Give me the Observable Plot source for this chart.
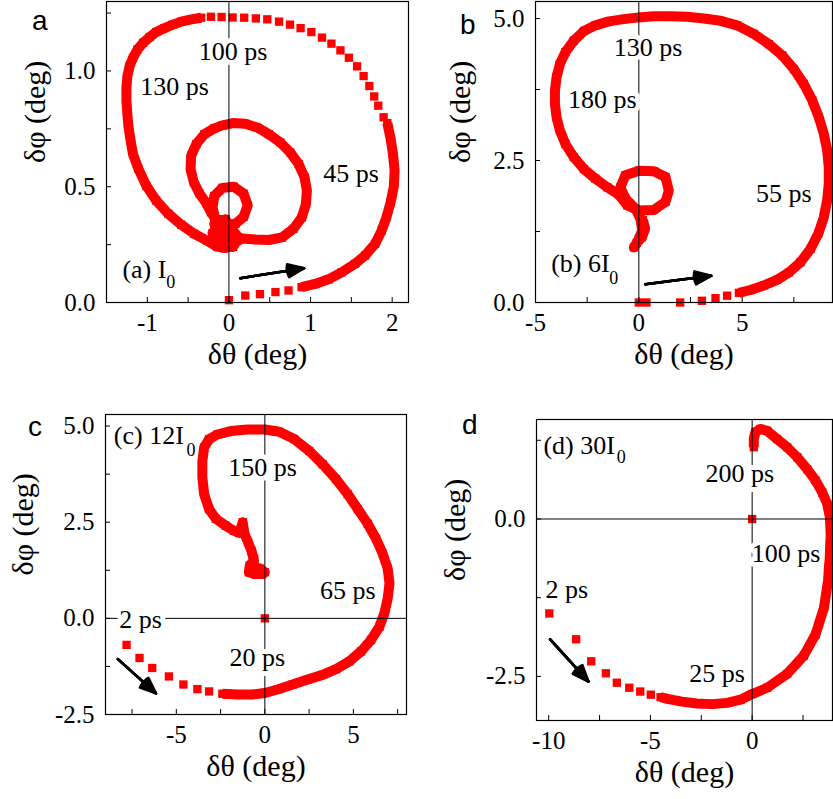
<!DOCTYPE html>
<html><head><meta charset="utf-8">
<script src="https://cdn.jsdelivr.net/npm/d3@7"></script>
<script src="https://cdn.jsdelivr.net/npm/@observablehq/plot@0.6"></script>
<style>
body{margin:0;background:#fff;}
#fig{position:relative;width:833px;height:799px;overflow:hidden;background:#fff;}
.panel{position:absolute;}
#fig svg, #fig svg text{font-family:"Liberation Serif","Times New Roman",Times,serif !important;}
.letter{position:absolute;font-family:"Liberation Sans",Arial,sans-serif;font-size:28px;line-height:28px;color:#000;}
</style></head><body><div id="fig"></div>
<script>
// ---------- Panel a : I0 ----------
const aSparseTheta = [0, 0.20, 0.38, 0.57, 0.73, 1.895, 1.83, 1.78, 1.72, 1.65, 1.57, 1.47, 1.366, 1.256, 1.14, 1.01, 0.878, 0.748, 0.614, 0.47, 0.33, 0.187, 0.045, -0.09, -0.22];
const aSparsePhi   = [0.01, 0.03, 0.036, 0.045, 0.052, 0.80, 0.85, 0.89, 0.935, 0.978, 1.02, 1.057, 1.089, 1.118, 1.144, 1.168, 1.185, 1.20, 1.213, 1.223, 1.227, 1.23, 1.231, 1.233, 1.234];
const aBandTheta = [0.89, 1.057, 1.22, 1.38, 1.545, 1.667, 1.79, 1.87, 1.93, 1.98, 2.02, 2.03, 2.01, 1.98, 1.94, null,
  -0.34, -0.46, -0.585, -0.687, -0.789, -0.89, -0.97, -1.05, -1.12, -1.175, -1.216, -1.244, -1.256, -1.256, -1.244, -1.232, -1.205, -1.175, -1.11, -1.012, -0.89, -0.744, -0.585, -0.427, -0.268, -0.146, -0.05, 0.05, 0.163, 0.325, 0.488, 0.65, 0.79, 0.894, 0.943, 0.955, 0.927, 0.854, 0.752, 0.63, 0.488, 0.345, 0.2, 0.05, -0.08, -0.18, -0.30, -0.40, -0.463, -0.47, -0.43, -0.36, -0.28, -0.22, -0.15, -0.05, 0.08, 0.18, 0.23, 0.18, 0.06, -0.08, -0.18, -0.2, -0.16, -0.12, -0.08, -0.04, 0.0, -0.02, -0.04,
  -0.2, -0.1, 0.05, 0.12, 0.05, -0.1, -0.18, -0.1];
const aBandPhi = [0.066, 0.08, 0.10, 0.13, 0.167, 0.203, 0.253, 0.31, 0.368, 0.432, 0.5, 0.57, 0.64, 0.71, 0.775, null,
  1.23, 1.223, 1.213, 1.20, 1.185, 1.168, 1.147, 1.122, 1.093, 1.057, 1.022, 0.978, 0.928, 0.871, 0.813, 0.763, 0.70, 0.64, 0.578, 0.504, 0.44, 0.384, 0.336, 0.297, 0.267, 0.241, 0.235, 0.255, 0.276, 0.272, 0.27, 0.281, 0.318, 0.368, 0.425, 0.483, 0.54, 0.598, 0.648, 0.691, 0.727, 0.756, 0.772, 0.775, 0.765, 0.752, 0.727, 0.684, 0.634, 0.576, 0.519, 0.47, 0.43, 0.39, 0.35, 0.335, 0.34, 0.37, 0.42, 0.47, 0.50, 0.495, 0.46, 0.41, 0.35, 0.30, 0.26, 0.25, 0.28, 0.32, 0.36,
  0.30, 0.24, 0.24, 0.28, 0.31, 0.30, 0.34, 0.36];
const aLabelText = ["100 ps", "130 ps", "45 ps"];
const aLabelX = [0.05, -0.667, 1.496];
const aLabelY = [1.083, 0.931, 0.555];
const aLegend = ["(a) I", "0"];
const aLegendX = [-1.305, -0.768];
const aLegendY = [0.141, 0.086];
const aArrow = [0.14, 0.105, 0.92, 0.148];
const aXDomain = [-1.5, 2.2], aYDomain = [0, 1.3];
const aXMinor = [-1, -0.5, 0, 0.5, 1, 1.5, 2], aYMinor = [0.25, 0.5, 0.75, 1.0, 1.25];
const aXTicks = [-1, 0, 1, 2], aXTickLabels = ["-1", "0", "1", "2"];
const aYTicks = [0, 0.5, 1.0], aYTickLabels = ["0.0", "0.5", "1.0"];

// ---------- Panel b : 6 I0 ----------
const bSparseTheta = [0, 0.37, 2.0, 3.05, 3.71, 4.27];
const bSparsePhi   = [0, 0, 0.0, 0.03, 0.076, 0.12];
const bBandTheta = [4.84, 5.4, 6.05, 6.69, 7.26, 7.82, 8.31, 8.68, 8.95, 9.11, 9.19, 9.19, 9.11, 8.95, 8.71, 8.39, 7.98, 7.5, 6.94, 6.29, 5.56, 4.76, 3.95, 3.15, 2.34, 1.53, 0.73, 0.0, -0.73, -1.45, -2.1, -2.66, -3.15, -3.55, -3.82, -3.98, -4.06, -4.06, -3.98, -3.82, -3.55, -3.15, -2.66, -2.1, -1.53, -0.97, -0.56, 0, 0.73, 1.29, 1.45, 1.29, 0.73, 0, -0.65, -0.89, -0.65, -0.16, 0.08, 0.16, 0, -0.24,
  -0.1, 0.15, 0.3, 0.2];
const bBandPhi = [0.17, 0.22, 0.30, 0.40, 0.53, 0.71, 0.945, 1.21, 1.50, 1.80, 2.09, 2.38, 2.68, 2.97, 3.26, 3.56, 3.85, 4.11, 4.35, 4.55, 4.73, 4.88, 4.96, 5.0, 5.03, 5.04, 5.04, 5.02, 4.99, 4.95, 4.88, 4.78, 4.61, 4.41, 4.2, 3.97, 3.73, 3.5, 3.26, 3.03, 2.79, 2.56, 2.35, 2.18, 2.03, 1.9, 1.71, 1.62, 1.63, 1.77, 1.97, 2.21, 2.31, 2.32, 2.24, 2.03, 1.83, 1.65, 1.47, 1.27, 1.12, 0.97,
  1.05, 1.15, 1.3, 1.45];
const bLabelText = ["130 ps", "180 ps", "55 ps"];
const bLabelX = [0.45, -1.77, 7.02];
const bLabelY = [4.48, 3.57, 1.92];
const bLegend = ["(b) 6I", "0"];
const bLegendX = [-4.24, -1.43];
const bLegendY = [0.68, 0.435];
const bArrow = [0.32, 0.32, 3.5, 0.47];
const bXDomain = [-5, 9.37], bYDomain = [0, 5.3];
const bXMinor = [-2.5, 0, 2.5, 5, 7.5], bYMinor = [1.25, 2.5, 3.75, 5];
const bXTicks = [-5, 0, 5], bXTickLabels = ["-5", "0", "5"];
const bYTicks = [0, 2.5, 5], bYTickLabels = ["0.0", "2.5", "5.0"];

// ---------- Panel c : 12 I0 ----------
const cSparseTheta = [0, -7.81, -7.08, -6.36, -5.42, -4.6, -3.81, -3.15];
const cSparsePhi   = [0, -0.69, -1.03, -1.29, -1.51, -1.72, -1.84, -1.90];
const cBandTheta = [-2.4, -1.55, -0.7, 0, 0.72, 1.57, 2.42, 3.26, 4.02, 4.77, 5.43, 6.0, 6.47, 6.75, 6.94, 7.04, 6.94, 6.66, 6.28, 5.81, 5.25, 4.68, 4.02, 3.26, 2.51, 1.66, 0.81, 0, -0.98, -1.92, -2.68, -3.15, -3.43, -3.53, -3.53, -3.43, -3.15, -2.77, -2.21, -1.75, -1.45, -1.25, -1.15, -0.95, -0.75, -0.62, -0.85, -0.9, -0.55, -0.15, 0,
  -0.3, -0.7, -0.6];
const cBandPhi = [-1.96, -1.98, -1.98, -1.94, -1.85, -1.72, -1.59, -1.47, -1.32, -1.12, -0.86, -0.56, -0.22, 0.13, 0.52, 0.91, 1.29, 1.68, 2.07, 2.46, 2.84, 3.23, 3.62, 4.01, 4.35, 4.66, 4.85, 4.91, 4.91, 4.87, 4.78, 4.66, 4.44, 4.09, 3.66, 3.23, 2.84, 2.59, 2.41, 2.28, 2.22, 2.5, 2.2, 1.98, 1.75, 1.5, 1.38, 1.2, 1.15, 1.15, 1.2,
  1.3, 1.3, 1.55];
const cLabelText = ["150 ps", "65 ps", "2 ps", "20 ps"];
const cLabelX = [-0.13, 4.68, -7.02, -0.42];
const cLabelY = [3.92, 0.73, -0.03, -1.03];
const cLegend = ["(c) 12I", "0"];
const cLegendX = [-8.53, -4.42];
const cLegendY = [4.74, 4.37];
const cArrow = [-8.3, -1.06, -6.15, -1.95];
const cXDomain = [-9, 8], cYDomain = [-2.5, 5.3];
const cXMinor = [-7.5, -5, -2.5, 0, 2.5, 5, 7.5], cYMinor = [-1.25, 0, 1.25, 2.5, 3.75, 5];
const cXTicks = [-5, 0, 5], cXTickLabels = ["-5", "0", "5"];
const cYTicks = [-2.5, 0, 2.5, 5], cYTickLabels = ["-2.5", "0.0", "2.5", "5.0"];

// ---------- Panel d : 30 I0 ----------
const dSparseTheta = [0, -9.97, -8.65, -7.91, -7.19, -6.65, -6.04, -5.5, -4.98];
const dSparsePhi   = [0, -1.5, -1.91, -2.26, -2.45, -2.6, -2.68, -2.74, -2.79];
const dBandTheta = [-4.5, -4.1, -3.45, -2.71, -1.97, -1.23, -0.57, 0, 0.74, 1.72, 2.54, 3.12, 3.53, 3.73, 3.82, 3.86, 3.82, 3.69, 3.45, 3.12, 2.71, 2.22, 1.72, 1.23, 0.74, 0.41, 0.16, 0.08, 0.08];
const dBandPhi = [-2.83, -2.86, -2.9, -2.93, -2.94, -2.92, -2.87, -2.78, -2.68, -2.46, -2.17, -1.83, -1.41, -0.98, -0.56, -0.24, 0.03, 0.24, 0.42, 0.61, 0.79, 0.98, 1.14, 1.27, 1.40, 1.43, 1.38, 1.27, 1.14];
const dLabelText = ["200 ps", "100 ps", "2 ps", "25 ps"];
const dLabelX = [-0.61, 1.67, -9.11, -1.72];
const dLabelY = [0.72, -0.55, -1.13, -2.46];
const dLegend = ["(d) 30I", "0"];
const dLegendX = [-10.26, -6.65];
const dLegendY = [1.17, 0.98];
const dArrow = [-9.93, -1.91, -8.05, -2.58];
const dXDomain = [-10.6, 3.95], dYDomain = [-3.2, 1.58];
const dXMinor = [-10, -7.5, -5, -2.5, 0, 2.5], dYMinor = [-2.5, -1.25, 0, 1.25];
const dXTicks = [-10, -5, 0], dXTickLabels = ["-10", "-5", "0"];
const dYTicks = [-2.5, 0], dYTickLabels = ["-2.5", "0.0"];

const xTitle = "δθ (deg)", yTitle = "δφ (deg)";
const panelLetters = ["a", "b", "c", "d"];

// ---------- drawing ----------
const SERIF = '"Liberation Serif","Times New Roman",Times,serif';
const RED = "#ff0000";
const num = v => (v == null ? NaN : v);
const pts = (tx, ty) => tx.map((t, i) => ({x: num(t), y: num(ty[i])}));

function makePanel(c) {
  const sparse = pts(c.sparseT, c.sparseP);
  const band = pts(c.bandT, c.bandP);
  const dots = sparse.concat(band.filter(d => !isNaN(d.x)));
  const labels = c.labText.map((t, i) => ({t, x: c.labX[i], y: c.labY[i]}));
  const legend = [{t: c.leg[0], x: c.legX[0], y: c.legY[0]}];
  const sub = [{t: c.leg[1], x: c.legX[1], y: c.legY[1]}];
  const arrow = [{x1: c.arr[0], y1: c.arr[1], x2: c.arr[2], y2: c.arr[3]}];
  const fmt = (ticks, labs) => d => labs[ticks.indexOf(d)];
  const F = {fontFamily: SERIF};
  const marks = [
    Plot.line(band, {x: "x", y: "y", stroke: RED, strokeWidth: 10, strokeLinejoin: "round", strokeLinecap: "butt"}),
    Plot.dot(dots, {x: "x", y: "y", symbol: "square", r: 4.7, fill: RED}),
    Plot.ruleX([0], {stroke: "black", strokeWidth: 1}),
    c.hZero ? Plot.ruleY([0], {stroke: "black", strokeWidth: 1}) : null,
    Plot.text(labels, {...F, x: "x", y: "y", text: "t", fontSize: 26, fill: "black", stroke: "white", strokeWidth: 10}),
    Plot.text(legend, {...F, x: "x", y: "y", text: "t", fontSize: 26, fill: "black", textAnchor: "start"}),
    Plot.text(sub, {...F, x: "x", y: "y", text: "t", fontSize: 18, fill: "black", textAnchor: "start"}),
    ...[10, 22, 34, 44].map(a => Plot.arrow(arrow, {x1: "x1", y1: "y1", x2: "x2", y2: "y2", stroke: "black", strokeWidth: 2.6, headAngle: a, headLength: 10})),
    Plot.frame({stroke: "black", strokeWidth: 1.2}),
    Plot.axisX(c.xMinor, {tickSize: 5, dy: -5, fill: "none", label: null}),
    Plot.axisY(c.yMinor, {tickSize: 5, dx: 5, fill: "none", label: null}),
    Plot.axisX(c.xTicks, {...F, tickSize: 0, tickPadding: 11, tickFormat: fmt(c.xTicks, c.xLabels), fontSize: 25, label: null}),
    Plot.axisY(c.yTicks, {...F, tickSize: 0, tickPadding: 11, tickFormat: fmt(c.yTicks, c.yLabels), fontSize: 25, label: null}),
    Plot.text([xTitle], {...F, frameAnchor: "bottom", dy: 61, fontSize: 30, text: d => d}),
    Plot.text([yTitle], {...F, frameAnchor: "left", dx: c.yTitleDx, dy: 11, rotate: -90, fontSize: 30, text: d => d})
  ];
  return Plot.plot({
    width: c.width, height: c.height,
    marginLeft: c.m[0], marginRight: c.m[1], marginTop: c.m[2], marginBottom: c.m[3],
    x: {domain: c.xDomain}, y: {domain: c.yDomain},
    style: {fontFamily: SERIF, background: "transparent", overflow: "visible", color: "black"},
    marks
  });
}

const panels = [
  {left: 0, top: 0, width: 420, height: 390, m: [106, 12, 1, 88], yTitleDx: -71, hZero: false,
   sparseT: aSparseTheta, sparseP: aSparsePhi, bandT: aBandTheta, bandP: aBandPhi,
   labText: aLabelText, labX: aLabelX, labY: aLabelY, leg: aLegend, legX: aLegendX, legY: aLegendY, arr: aArrow,
   xDomain: aXDomain, yDomain: aYDomain, xMinor: aXMinor, yMinor: aYMinor,
   xTicks: aXTicks, xLabels: aXTickLabels, yTicks: aYTicks, yLabels: aYTickLabels},
  {left: 420, top: 0, width: 413, height: 390, m: [115, 1, 1, 88], yTitleDx: -75, hZero: false,
   sparseT: bSparseTheta, sparseP: bSparsePhi, bandT: bBandTheta, bandP: bBandPhi,
   labText: bLabelText, labX: bLabelX, labY: bLabelY, leg: bLegend, legX: bLegendX, legY: bLegendY, arr: bArrow,
   xDomain: bXDomain, yDomain: bYDomain, xMinor: bXMinor, yMinor: bYMinor,
   xTicks: bXTicks, xLabels: bXTickLabels, yTicks: bYTicks, yLabels: bYTickLabels},
  {left: 0, top: 390, width: 420, height: 409, m: [105, 14, 24, 85], yTitleDx: -82, hZero: true,
   sparseT: cSparseTheta, sparseP: cSparsePhi, bandT: cBandTheta, bandP: cBandPhi,
   labText: cLabelText, labX: cLabelX, labY: cLabelY, leg: cLegend, legX: cLegendX, legY: cLegendY, arr: cArrow,
   xDomain: cXDomain, yDomain: cYDomain, xMinor: cXMinor, yMinor: cYMinor,
   xTicks: cXTicks, xLabels: cXTickLabels, yTicks: cYTicks, yLabels: cYTickLabels},
  {left: 420, top: 390, width: 413, height: 409, m: [116, 1, 29, 79], yTitleDx: -81, hZero: true,
   sparseT: dSparseTheta, sparseP: dSparsePhi, bandT: dBandTheta, bandP: dBandPhi,
   labText: dLabelText, labX: dLabelX, labY: dLabelY, leg: dLegend, legX: dLegendX, legY: dLegendY, arr: dArrow,
   xDomain: dXDomain, yDomain: dYDomain, xMinor: dXMinor, yMinor: dYMinor,
   xTicks: dXTicks, xLabels: dXTickLabels, yTicks: dYTicks, yLabels: dYTickLabels}
];

const fig = document.getElementById("fig");
panels.forEach(p => {
  const div = document.createElement("div");
  div.className = "panel";
  div.style.left = p.left + "px";
  div.style.top = p.top + "px";
  div.appendChild(makePanel(p));
  fig.appendChild(div);
});

const letterPos = [[32, 7], [460, 11], [28, 413], [462, 411]];
panelLetters.forEach((t, i) => {
  const el = document.createElement("div");
  el.className = "letter";
  el.textContent = t;
  el.style.left = letterPos[i][0] + "px";
  el.style.top = letterPos[i][1] + "px";
  fig.appendChild(el);
});
</script></body></html>
